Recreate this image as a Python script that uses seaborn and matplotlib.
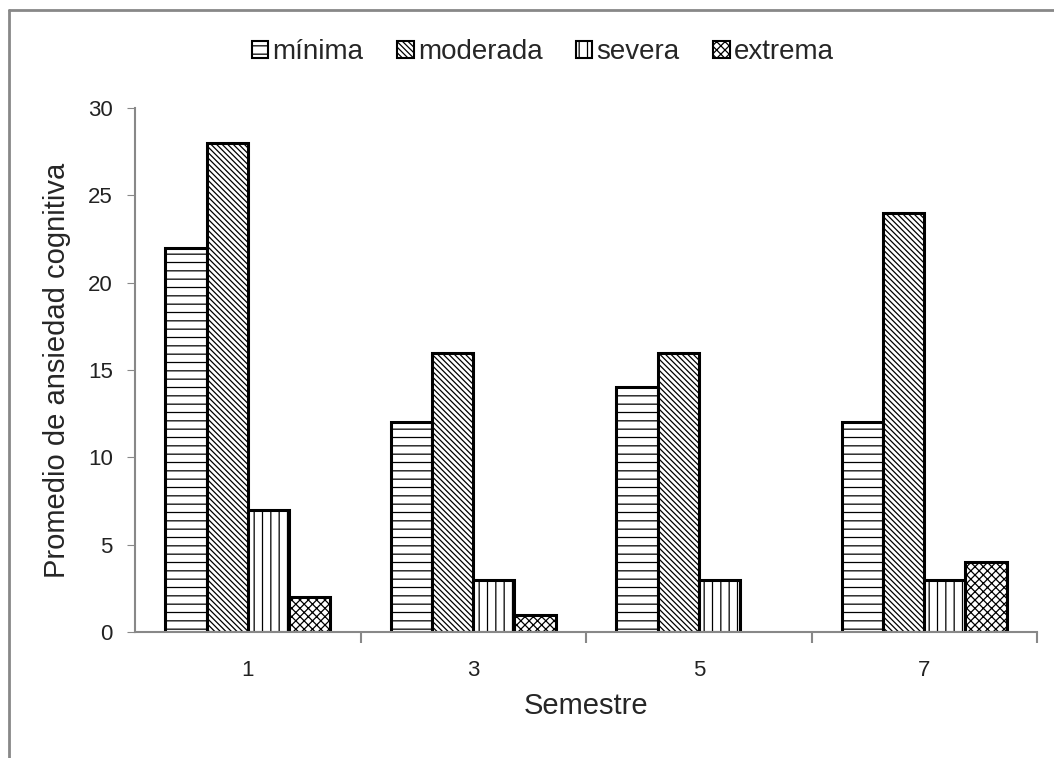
import matplotlib
matplotlib.use("Agg")
import matplotlib.pyplot as plt
import matplotlib.patches as mpatches
import matplotlib.lines as mlines
import pandas as pd
import seaborn as sns

semestres = ["1", "3", "5", "7"]
niveles = ["mínima", "moderada", "severa", "extrema"]
minima = [22, 12, 14, 12]
moderada = [28, 16, 16, 24]
severa = [7, 3, 3, 3]
extrema = [2, 1, 0, 4]

hatches = ["--", "\\\\\\\\\\\\", "||", "xxxx"]

df = pd.DataFrame({"Semestre": semestres, "mínima": minima, "moderada": moderada,
                   "severa": severa, "extrema": extrema})
df = df.melt(id_vars="Semestre", var_name="nivel", value_name="valor")

sns.set_style("white")
plt.rcParams["font.family"] = ["Liberation Sans", "DejaVu Sans"]
plt.rcParams["hatch.linewidth"] = 0.9

fig = plt.figure(figsize=(10.54, 7.58), dpi=100)
ax = fig.add_axes([0.1281, 0.1662, 0.8558, 0.6913])

ax = sns.barplot(data=df, x="Semestre", y="valor", hue="nivel", order=semestres,
                 hue_order=niveles, palette=["white"] * 4, width=0.73,
                 edgecolor="black", linewidth=2.2, legend=False, ax=ax, saturation=1)

for i, cont in enumerate(ax.containers):
    for bar in cont:
        bar.set_hatch(hatches[i])
        if bar.get_height() == 0:
            bar.set_visible(False)

ax.set_ylim(0, 30)
ax.set_xlim(-0.5, 3.5)
ax.set_yticks([0, 5, 10, 15, 20, 25, 30])
ax.set_xlabel("Semestre", fontsize=21, labelpad=8)
ax.set_ylabel("Promedio de ansiedad cognitiva", fontsize=21, labelpad=12)
ax.tick_params(axis="both", labelsize=16, colors="#222222")
ax.tick_params(axis="y", length=6, direction="out", left=True, color="#888888", pad=10)
ax.tick_params(axis="x", length=0, pad=20)
ax.set_xticks([0.5, 1.5, 2.5, 3.5], minor=True)
ax.tick_params(axis="x", which="minor", length=8, bottom=True, color="#888888", width=1.5)

for s in ["top", "right"]:
    ax.spines[s].set_visible(False)
for s in ["left", "bottom"]:
    ax.spines[s].set_color("#888888")
    ax.spines[s].set_linewidth(1.5)

handles = [mpatches.Patch(facecolor="white", edgecolor="black", hatch=h, linewidth=1.5, label=l)
           for h, l in zip(hatches, niveles)]
fig.legend(handles=handles, loc="center", bbox_to_anchor=(0.515, 0.931), ncol=4, frameon=False,
           fontsize=20, handlelength=0.6, handleheight=0.6, handletextpad=0.15, columnspacing=1.2)

# marco exterior (solo arriba e izquierda visibles)
fig.add_artist(mlines.Line2D([0.009, 1.0], [0.987, 0.987], transform=fig.transFigure,
                             color="#888888", linewidth=2))
fig.add_artist(mlines.Line2D([0.009, 0.009], [0.0, 0.987], transform=fig.transFigure,
                             color="#888888", linewidth=2))

fig.savefig("out.png", dpi=100)
